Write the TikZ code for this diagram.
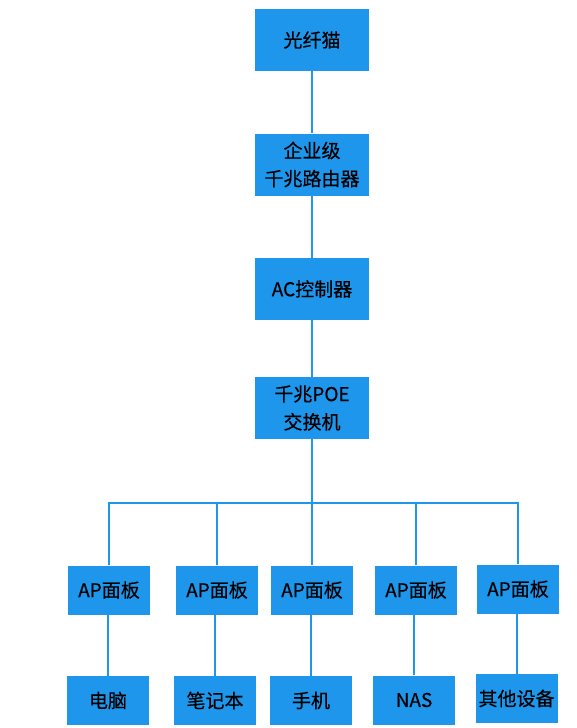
\documentclass[tikz,border=0pt]{standalone}
\usepackage{fontspec}
\setmainfont{Noto Sans CJK SC}
\newfontfamily\boxfont{Noto Sans CJK SC}[FakeBold=0.4]
\definecolor{boxblue}{RGB}{30,150,235}
\begin{document}
\begin{tikzpicture}[x=1pt,y=-1pt,
  box/.style={fill=boxblue,draw=none,inner sep=0pt,align=center,
    font=\boxfont\fontsize{19}{28}\selectfont,text=black},
  big/.style={box,minimum width=114pt,minimum height=62pt},
  small/.style={box,minimum width=82pt,minimum height=49pt},
  link/.style={draw=boxblue,line width=2pt}]
\useasboundingbox (0,0) rectangle (577,728);
\node[big] (cat) at (312,40) {光纤猫};
\node[big] (rt) at (312,164.5) {企业级\\千兆路由器};
\node[big] (ac) at (312,289) {AC控制器};
\node[big] (sw) at (312,408) {千兆POE\\交换机};
\node[small] (ap1) at (109,590) {AP面板};
\node[small] (ap2) at (217,590) {AP面板};
\node[small] (ap3) at (312,590) {AP面板};
\node[small] (ap4) at (416,590) {AP面板};
\node[small] (ap5) at (518,589) {AP面板};
\node[small] (d1) at (108,700.5) {电脑};
\node[small] (d2) at (215,700.5) {笔记本};
\node[small] (d3) at (311,700.5) {手机};
\node[small] (d4) at (414,700) {NAS};
\node[small] (d5) at (516.5,698.5) {其他设备};
\coordinate (busL) at (109,503);
\coordinate (busR) at (518,503);
\draw[link] (cat.south) -- (rt.north);
\draw[link] (rt.south) -- (ac.north);
\draw[link] (ac.south) -- (sw.north);
\draw[link] (sw.south) -- (sw.south |- busL);
\draw[link] (ap1.north) -- (busL) -- (busR) -- (ap5.north);
\foreach \i in {2,3,4} \draw[link] (ap\i.north) -- (ap\i.north |- busL);
\foreach \i in {1,...,5} \draw[link] (d\i.north) -- (d\i.north |- ap\i.south);
\end{tikzpicture}
\end{document}
